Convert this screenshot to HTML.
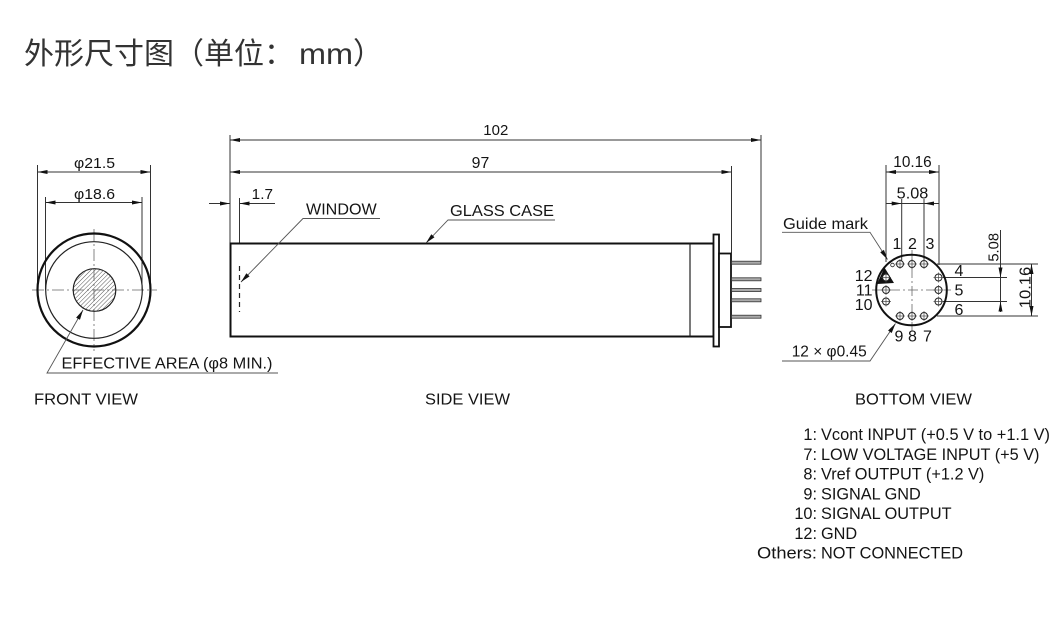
<!DOCTYPE html>
<html><head><meta charset="utf-8"><style>
html,body{margin:0;padding:0;background:#fff;}
svg{display:block;}
text{font-family:"Liberation Sans","Noto Sans CJK SC",Arial,sans-serif;fill:#141414;}
</style></head><body>
<svg width="1055" height="618" viewBox="0 0 1055 618" xmlns="http://www.w3.org/2000/svg">
<defs>
<pattern id="h" width="3" height="3" patternUnits="userSpaceOnUse" patternTransform="rotate(45)">
<line x1="0" y1="0" x2="0" y2="3" stroke="#555" stroke-width="1"/>
</pattern>
</defs>
<rect width="1055" height="618" fill="#fff"/>

<!-- Title -->
<text x="24" y="64" font-size="30" style="fill:#333">外形尺寸图（单位：</text>
<text x="299" y="64" font-size="30" textLength="54" lengthAdjust="spacingAndGlyphs" style="fill:#333">mm</text>
<text x="353" y="64" font-size="30" style="fill:#333">）</text>

<!-- ================= FRONT VIEW ================= -->
<g stroke="#333" stroke-width="1" fill="none">
<line x1="37.5" y1="165" x2="37.5" y2="290"/>
<line x1="150.5" y1="165" x2="150.5" y2="285"/>
<line x1="45.5" y1="197" x2="45.5" y2="290"/>
<line x1="142" y1="197" x2="142" y2="290"/>
<line x1="37.5" y1="172" x2="150.5" y2="172"/>
<line x1="45.5" y1="202.5" x2="142" y2="202.5"/>
</g>
<g fill="#111">
<polygon points="37.5,172 47.5,170 47.5,174"/>
<polygon points="150.5,172 140.5,170 140.5,174"/>
<polygon points="45.5,202.5 55.5,200.5 55.5,204.5"/>
<polygon points="142,202.5 132,200.5 132,204.5"/>
</g>
<text x="74" y="168" font-size="15" textLength="41" lengthAdjust="spacingAndGlyphs">φ21.5</text>
<text x="74" y="199" font-size="15" textLength="41" lengthAdjust="spacingAndGlyphs">φ18.6</text>

<g stroke="#666" stroke-width="0.8" fill="none" stroke-dasharray="12,3,2,3">
<line x1="32" y1="290" x2="157" y2="290"/>
<line x1="94" y1="229" x2="94" y2="351"/>
</g>
<circle cx="94" cy="290" r="56.5" fill="none" stroke="#111" stroke-width="2.2"/>
<circle cx="94" cy="290" r="48.3" fill="none" stroke="#222" stroke-width="1.2"/>
<circle cx="94.5" cy="290" r="21.3" fill="url(#h)" stroke="#222" stroke-width="1.2"/>

<polyline points="278,373 47,373 83,310" fill="none" stroke="#555" stroke-width="0.9"/>
<polygon points="83,310 79.95,319.77 76.13,317.59" fill="#111"/>
<text x="61.5" y="368.5" font-size="16" textLength="211" lengthAdjust="spacingAndGlyphs">EFFECTIVE AREA (φ8 MIN.)</text>

<text x="34" y="404.5" font-size="15.5" textLength="104" lengthAdjust="spacingAndGlyphs">FRONT VIEW</text>

<!-- ================= SIDE VIEW ================= -->
<g stroke="#333" stroke-width="1" fill="none">
<line x1="230" y1="135" x2="230" y2="243"/>
<line x1="761" y1="135" x2="761" y2="261"/>
<line x1="731.5" y1="166" x2="731.5" y2="253"/>
<line x1="230" y1="140" x2="761" y2="140"/>
<line x1="230" y1="172" x2="731.5" y2="172"/>
<line x1="239.5" y1="198" x2="239.5" y2="243"/>
<line x1="209" y1="203.5" x2="230" y2="203.5"/>
<line x1="239.5" y1="203.5" x2="275" y2="203.5"/>
</g>
<g fill="#111">
<polygon points="230,140 240,138 240,142"/>
<polygon points="761,140 751,138 751,142"/>
<polygon points="230,172 240,170 240,174"/>
<polygon points="731.5,172 721.5,170 721.5,174"/>
<polygon points="230,203.5 220,201.5 220,205.5"/>
<polygon points="239.5,203.5 249.5,201.5 249.5,205.5"/>
</g>
<text x="483.3" y="135" font-size="15" textLength="25" lengthAdjust="spacingAndGlyphs">102</text>
<text x="471.7" y="168" font-size="15.5" textLength="17.6" lengthAdjust="spacingAndGlyphs">97</text>
<text x="251.7" y="199" font-size="15" textLength="21.3" lengthAdjust="spacingAndGlyphs">1.7</text>

<!-- body -->
<rect x="230.5" y="243.5" width="483" height="93" fill="none" stroke="#111" stroke-width="2"/>
<line x1="690" y1="243.5" x2="690" y2="336.5" stroke="#222" stroke-width="1.2"/>
<rect x="713.5" y="234.5" width="5.5" height="112" fill="#fff" stroke="#111" stroke-width="1.8"/>
<rect x="719" y="253.5" width="12" height="73.5" fill="#fff" stroke="#111" stroke-width="1.8"/>
<g fill="#aaa" stroke="#333" stroke-width="0.8">
<rect x="731.5" y="261.2" width="29.5" height="3"/>
<rect x="731.5" y="277.8" width="29.5" height="3"/>
<rect x="731.5" y="288.5" width="29.5" height="3"/>
<rect x="731.5" y="298.8" width="29.5" height="3"/>
<rect x="731.5" y="315.2" width="29.5" height="3"/>
</g>
<line x1="239.5" y1="266" x2="239.5" y2="312" stroke="#222" stroke-width="1.2" stroke-dasharray="5,4"/>

<polyline points="380,218.5 303,218.5 241,282" fill="none" stroke="#555" stroke-width="0.9"/>
<polygon points="241,282 249.56,276.38 246.41,273.30" fill="#111"/>
<text x="306" y="214.3" font-size="16" textLength="70.7" lengthAdjust="spacingAndGlyphs">WINDOW</text>

<polyline points="555,220 448,220 426,243" fill="none" stroke="#555" stroke-width="0.9"/>
<polygon points="426,243 434.5,237.29 431.32,234.25" fill="#111"/>
<text x="450" y="216" font-size="16" textLength="104" lengthAdjust="spacingAndGlyphs">GLASS CASE</text>

<text x="425" y="404.5" font-size="15.5" textLength="85" lengthAdjust="spacingAndGlyphs">SIDE VIEW</text>

<!-- ================= BOTTOM VIEW ================= -->
<g stroke="#333" stroke-width="1" fill="none">
<line x1="886" y1="165" x2="886" y2="262"/>
<line x1="939" y1="165" x2="939" y2="265"/>
<line x1="901.7" y1="199" x2="901.7" y2="260.5"/>
<line x1="924" y1="199" x2="924" y2="260.5"/>
<line x1="886" y1="172" x2="939" y2="172"/>
<line x1="886" y1="203.5" x2="939" y2="203.5"/>
<line x1="937" y1="264" x2="1038" y2="264"/>
<line x1="937" y1="316" x2="1038" y2="316"/>
<line x1="943" y1="277.5" x2="1007" y2="277.5"/>
<line x1="943" y1="301.5" x2="1007" y2="301.5"/>
<line x1="1000.5" y1="230" x2="1000.5" y2="312"/>
<line x1="1031.5" y1="264" x2="1031.5" y2="316"/>
</g>
<g fill="#111">
<polygon points="886,172 896,170 896,174"/>
<polygon points="939,172 929,170 929,174"/>
<polygon points="901.7,203.5 891.7,201.5 891.7,205.5"/>
<polygon points="924,203.5 934,201.5 934,205.5"/>
<polygon points="1000.5,277.5 998.5,267.5 1002.5,267.5"/>
<polygon points="1000.5,301.5 998.5,311.5 1002.5,311.5"/>
<polygon points="1031.5,264 1029.5,274 1033.5,274"/>
<polygon points="1031.5,316 1029.5,306 1033.5,306"/>
</g>
<text x="893.3" y="167" font-size="16" textLength="38.4" lengthAdjust="spacingAndGlyphs">10.16</text>
<text x="896.7" y="198.5" font-size="16" textLength="31.6" lengthAdjust="spacingAndGlyphs">5.08</text>
<text transform="translate(998.5,247.3) rotate(-90)" text-anchor="middle" font-size="15" textLength="28.7" lengthAdjust="spacingAndGlyphs">5.08</text>
<text transform="translate(1030.5,287.5) rotate(-90)" text-anchor="middle" font-size="16" textLength="41.6" lengthAdjust="spacingAndGlyphs">10.16</text>

<g stroke="#666" stroke-width="0.8" fill="none" stroke-dasharray="10,3,2,3">
<line x1="872" y1="290" x2="951" y2="290"/>
<line x1="912" y1="250" x2="912" y2="331"/>
</g>
<circle cx="911.5" cy="290" r="35.3" fill="none" stroke="#111" stroke-width="2"/>

<!-- guide mark -->
<polygon points="884.5,267.5 877,284 894,283" fill="#111"/>
<circle cx="892.5" cy="265" r="1.8" fill="#fff" stroke="#222" stroke-width="0.8"/>

<!-- pins -->
<g fill="#fff" stroke="#222" stroke-width="1">
<circle cx="900" cy="264" r="3.5"/>
<circle cx="912" cy="264" r="3.5"/>
<circle cx="924" cy="264" r="3.5"/>
<circle cx="900" cy="316" r="3.5"/>
<circle cx="912" cy="316" r="3.5"/>
<circle cx="924" cy="316" r="3.5"/>
<circle cx="886" cy="277.5" r="3.5"/>
<circle cx="886" cy="290" r="3.5"/>
<circle cx="886" cy="301.5" r="3.5"/>
<circle cx="938.5" cy="277.5" r="3.5"/>
<circle cx="938.5" cy="290" r="3.5"/>
<circle cx="938.5" cy="301.5" r="3.5"/>
</g>
<g stroke="#444" stroke-width="0.7">
<line x1="895" y1="264" x2="905" y2="264"/><line x1="900" y1="259" x2="900" y2="269"/>
<line x1="907" y1="264" x2="917" y2="264"/><line x1="912" y1="259" x2="912" y2="269"/>
<line x1="919" y1="264" x2="929" y2="264"/><line x1="924" y1="259" x2="924" y2="269"/>
<line x1="895" y1="316" x2="905" y2="316"/><line x1="900" y1="311" x2="900" y2="321"/>
<line x1="907" y1="316" x2="917" y2="316"/><line x1="912" y1="311" x2="912" y2="321"/>
<line x1="919" y1="316" x2="929" y2="316"/><line x1="924" y1="311" x2="924" y2="321"/>
<line x1="881" y1="277.5" x2="891" y2="277.5"/><line x1="886" y1="272.5" x2="886" y2="282.5"/>
<line x1="881" y1="290" x2="891" y2="290"/><line x1="886" y1="285" x2="886" y2="295"/>
<line x1="881" y1="301.5" x2="891" y2="301.5"/><line x1="886" y1="296.5" x2="886" y2="306.5"/>
<line x1="933.5" y1="277.5" x2="943.5" y2="277.5"/><line x1="938.5" y1="272.5" x2="938.5" y2="282.5"/>
<line x1="933.5" y1="290" x2="943.5" y2="290"/><line x1="938.5" y1="285" x2="938.5" y2="295"/>
<line x1="933.5" y1="301.5" x2="943.5" y2="301.5"/><line x1="938.5" y1="296.5" x2="938.5" y2="306.5"/>
</g>

<!-- pin labels -->
<g font-size="16">
<text x="897" y="249" text-anchor="middle">1</text>
<text x="912.5" y="249" text-anchor="middle">2</text>
<text x="930" y="249" text-anchor="middle">3</text>
<text x="899" y="341.7" text-anchor="middle">9</text>
<text x="912.5" y="341.7" text-anchor="middle">8</text>
<text x="927.5" y="341.7" text-anchor="middle">7</text>
<text x="872.5" y="281" text-anchor="end">12</text>
<text x="872.5" y="295.5" text-anchor="end">11</text>
<text x="872.5" y="310" text-anchor="end">10</text>
<text x="954.5" y="276">4</text>
<text x="954.5" y="295.5">5</text>
<text x="954.5" y="315">6</text>
</g>

<polyline points="782,232.3 870,232.3 887.5,259.5" fill="none" stroke="#555" stroke-width="0.9"/>
<polygon points="887.5,259.5 883.94,249.9 880.24,252.28" fill="#111"/>
<text x="783" y="229" font-size="16" textLength="85" lengthAdjust="spacingAndGlyphs">Guide mark</text>

<polyline points="782,361 870,361 895.5,323.5" fill="none" stroke="#555" stroke-width="0.9"/>
<polygon points="895.5,323.5 891.7,333.01 888.06,330.53" fill="#111"/>
<text x="791.7" y="356.7" font-size="16" textLength="75" lengthAdjust="spacingAndGlyphs">12 × φ0.45</text>

<text x="855" y="404.5" font-size="15.5" textLength="117" lengthAdjust="spacingAndGlyphs">BOTTOM VIEW</text>

<!-- legend -->
<g font-size="16.3">
<text x="817" y="440" text-anchor="end">1:</text>
<text x="821" y="440" textLength="229" lengthAdjust="spacingAndGlyphs">Vcont INPUT (+0.5 V to +1.1 V)</text>
<text x="817" y="459.75" text-anchor="end">7:</text>
<text x="821" y="459.75">LOW VOLTAGE INPUT (+5 V)</text>
<text x="817" y="479.5" text-anchor="end">8:</text>
<text x="821" y="479.5">Vref OUTPUT (+1.2 V)</text>
<text x="817" y="499.25" text-anchor="end">9:</text>
<text x="821" y="499.25">SIGNAL GND</text>
<text x="817" y="519" text-anchor="end">10:</text>
<text x="821" y="519">SIGNAL OUTPUT</text>
<text x="817" y="538.75" text-anchor="end">12:</text>
<text x="821" y="538.75">GND</text>
<text x="757" y="558.5" textLength="60" lengthAdjust="spacingAndGlyphs">Others:</text>
<text x="821" y="558.5" textLength="142" lengthAdjust="spacingAndGlyphs">NOT CONNECTED</text>
</g>
</svg>
</body></html>
